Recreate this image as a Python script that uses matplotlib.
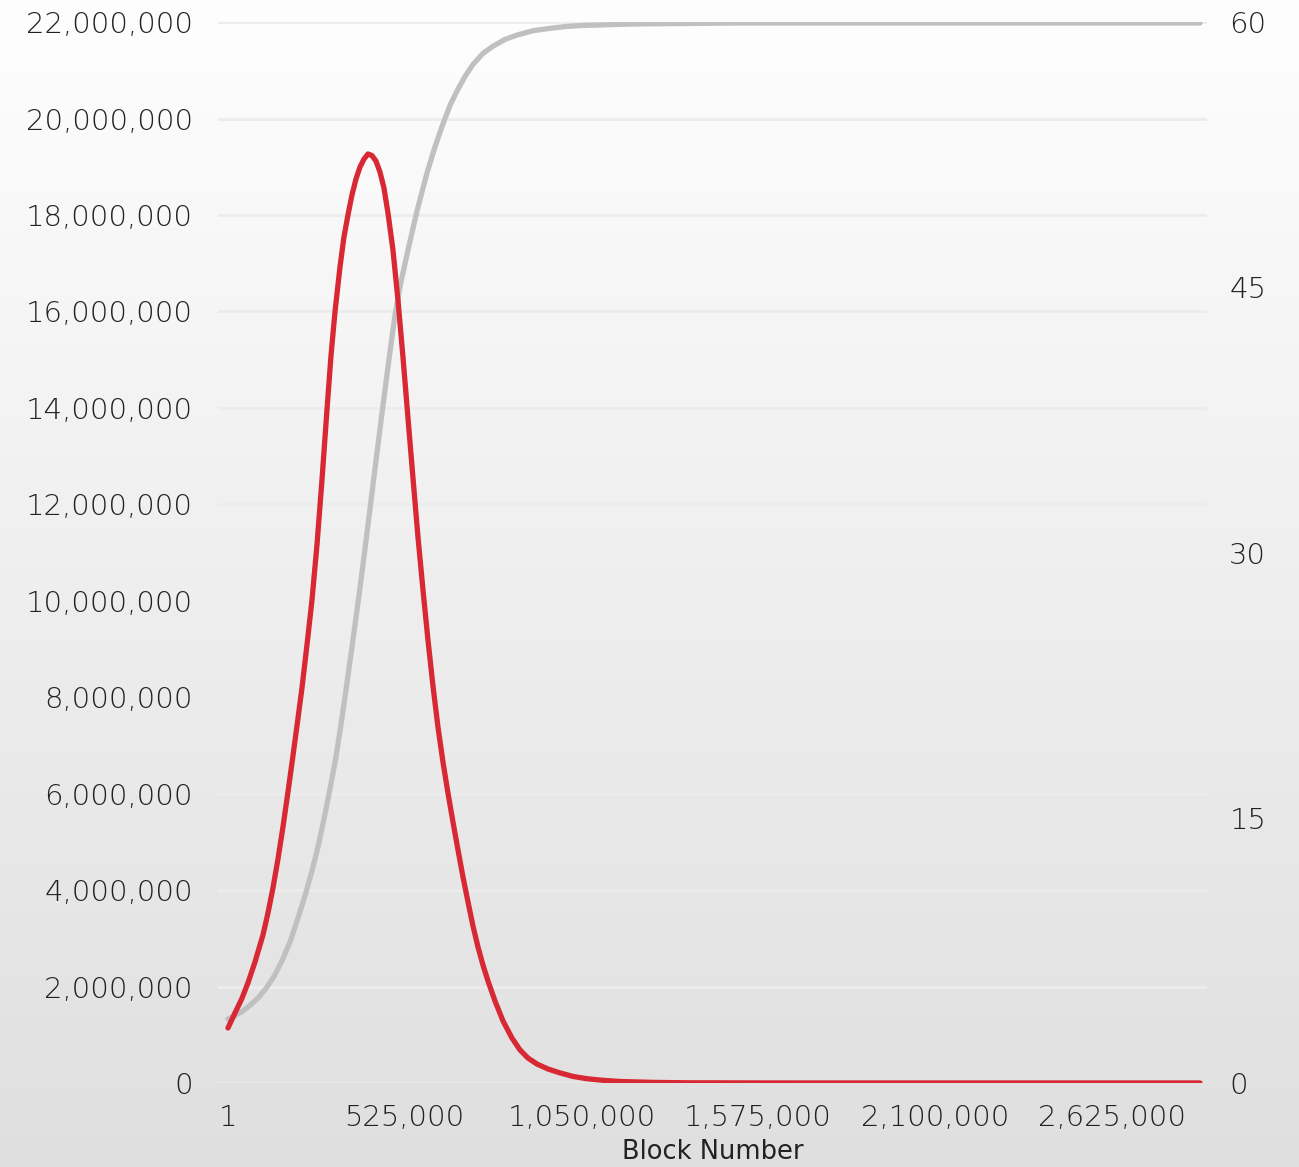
import matplotlib
matplotlib.use("Agg")
import matplotlib.pyplot as plt
import numpy as np
from matplotlib.ticker import FuncFormatter

# Block reward per block (right axis)
reward_blocks = [1, 20800, 40700, 59400, 80200, 104000, 118800, 133700, 148600, 163400,
                 178300, 190200, 205000, 219900, 234700, 249600, 264400, 279300, 294100, 306000,
                 317900, 332800, 344600, 356500, 368400, 380300, 392200, 404100, 416000, 427800,
                 439700, 451600, 463500, 475400, 490200, 505100, 519900, 534800, 549700, 564500,
                 579400, 594200, 609100, 623900, 638800, 653600, 668500, 683400, 698200, 713100,
                 727900, 742800, 757600, 772500, 793300, 817100, 843800, 867600, 891300, 918100,
                 950800, 986400, 1025000, 1066600, 1114200, 1164700, 1262700, 1363700, 1699500, 2888000]
reward = [3.11, 3.96, 4.75, 5.66, 6.84, 8.37, 9.61, 11.03, 12.67, 14.48,
          16.46, 18.10, 20.19, 22.34, 24.77, 27.31, 30.42, 34.10, 38.06, 41.11,
          43.60, 46.15, 47.84, 49.09, 50.22, 51.12, 51.80, 52.25, 52.54, 52.45,
          52.14, 51.52, 50.61, 49.20, 47.11, 44.28, 41.06, 37.61, 34.21, 30.88,
          27.88, 25.05, 22.45, 20.13, 18.15, 16.40, 14.76, 13.18, 11.65, 10.24,
          8.88, 7.69, 6.67, 5.77, 4.64, 3.51, 2.54, 1.87, 1.41, 1.07,
          0.79, 0.57, 0.37, 0.24, 0.15, 0.085, 0.034, 0.01, 0.0, 0.0]

# Total supply (left axis)
supply_blocks = [1, 20800, 41600, 65400, 89100, 112900, 136700, 160400, 184200, 208000,
                 228800, 249600, 267400, 285200, 303100, 320900, 338700, 356500, 371400, 386200,
                 404100, 421900, 439700, 457600, 478400, 496200, 514000, 534800, 561500, 591300,
                 615000, 638800, 659600, 680400, 704100, 727900, 757600, 787300, 823000, 858700,
                 906200, 956700, 1007200, 1054700, 1203300, 1500400, 1996600, 2888000]
supply_m = [1.327, 1.40, 1.48, 1.61, 1.76, 1.96, 2.21, 2.53, 2.92, 3.42,
            3.88, 4.40, 4.89, 5.47, 6.10, 6.76, 7.57, 8.44, 9.19, 9.95,
            10.91, 11.90, 12.90, 13.89, 15.01, 15.92, 16.61, 17.27, 18.08, 18.87,
            19.41, 19.89, 20.27, 20.57, 20.87, 21.12, 21.35, 21.50, 21.64, 21.73,
            21.82, 21.87, 21.91, 21.93, 21.96, 21.98, 21.98, 21.98]
supply = [v * 1e6 for v in supply_m]

x_ticks = [1, 525000, 1050000, 1575000, 2100000, 2625000]
left_ticks = list(range(0, 22000001, 2000000))
right_ticks = [0, 15, 30, 45, 60]

plt.rcParams['font.family'] = ['DejaVu Sans']
plt.rcParams['font.weight'] = 'light'

fig = plt.figure(figsize=(12.99, 11.67), dpi=100)

# background gradient
bg = fig.add_axes([0, 0, 1, 1], zorder=-10)
grad = np.linspace(0.996, 0.875, 256).reshape(-1, 1)
bg.imshow(np.dstack([grad, grad, grad]), aspect='auto', extent=[0, 1, 0, 1])
bg.axis('off')

ax = fig.add_axes([0.1678, 0.0720, 0.7614, 0.9091])
ax.patch.set_alpha(0)
ax2 = ax.twinx()

ax.plot(supply_blocks, supply, color='#c0c0c0', lw=3.8, solid_capstyle='round',
        solid_joinstyle='round', zorder=3)
ax2.plot(reward_blocks, reward, color='#d72833', lw=3.8, solid_capstyle='round',
         solid_joinstyle='round', zorder=4)

ax.set_xlim(-29700, 2908800)
ax.set_ylim(0, 22000000)
ax2.set_ylim(0, 60)

ax.set_yticks(left_ticks)
ax.yaxis.set_major_formatter(FuncFormatter(lambda v, p: f"{int(v):,}"))
ax2.set_yticks(right_ticks)
ax.set_xticks(x_ticks)
ax.set_xticklabels([f"{v:,}" for v in x_ticks])

ax.grid(axis='y', color='#ececec', lw=2)
ax.set_axisbelow(True)

for a in (ax, ax2):
    for s in a.spines.values():
        s.set_visible(False)
    a.tick_params(length=0, labelsize=21, labelcolor='#222222')

ax.tick_params(axis='y', pad=18)
ax2.tick_params(axis='y', pad=16)
ax.tick_params(axis='x', pad=15)

ax.set_xlabel("Block Number", fontsize=18.5, color='#222222', labelpad=5)

fig.savefig("out.png", dpi=100)
